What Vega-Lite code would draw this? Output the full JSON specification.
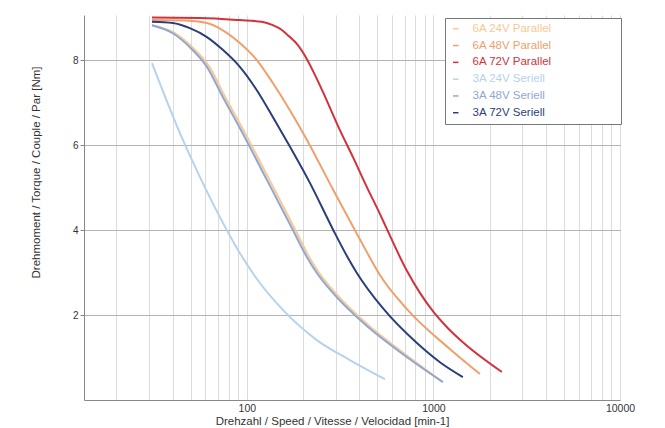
{
  "$schema": "https://vega.github.io/schema/vega-lite/v6.json",
  "width": 536,
  "height": 385,
  "autosize": {"type": "none"},
  "padding": {"left": 84, "top": 15, "right": 45, "bottom": 28},
  "background": "white",
  "config": {
    "view": {"stroke": null},
    "font": "Liberation Sans"
  },
  "data": {
    "values": [
      {"s": "6A 24V Parallel", "n": 31.0, "t": 8.82},
      {"s": "6A 24V Parallel", "n": 41.3, "t": 8.63},
      {"s": "6A 24V Parallel", "n": 51.0, "t": 8.3},
      {"s": "6A 24V Parallel", "n": 63.0, "t": 7.84},
      {"s": "6A 24V Parallel", "n": 76.5, "t": 7.13},
      {"s": "6A 24V Parallel", "n": 94.5, "t": 6.4},
      {"s": "6A 24V Parallel", "n": 132, "t": 5.18},
      {"s": "6A 24V Parallel", "n": 182, "t": 4.0},
      {"s": "6A 24V Parallel", "n": 216, "t": 3.36},
      {"s": "6A 24V Parallel", "n": 244, "t": 2.99},
      {"s": "6A 24V Parallel", "n": 298, "t": 2.52},
      {"s": "6A 24V Parallel", "n": 453, "t": 1.74},
      {"s": "6A 24V Parallel", "n": 680, "t": 1.13},
      {"s": "6A 24V Parallel", "n": 1110, "t": 0.44},

      {"s": "6A 48V Parallel", "n": 31.0, "t": 8.94},
      {"s": "6A 48V Parallel", "n": 46.5, "t": 8.93},
      {"s": "6A 48V Parallel", "n": 61.1, "t": 8.87},
      {"s": "6A 48V Parallel", "n": 74.3, "t": 8.7},
      {"s": "6A 48V Parallel", "n": 91.7, "t": 8.4},
      {"s": "6A 48V Parallel", "n": 113.1, "t": 8.0},
      {"s": "6A 48V Parallel", "n": 137.8, "t": 7.46},
      {"s": "6A 48V Parallel", "n": 170.1, "t": 6.82},
      {"s": "6A 48V Parallel", "n": 209.9, "t": 6.12},
      {"s": "6A 48V Parallel", "n": 289.0, "t": 4.96},
      {"s": "6A 48V Parallel", "n": 388.7, "t": 3.91},
      {"s": "6A 48V Parallel", "n": 439.8, "t": 3.48},
      {"s": "6A 48V Parallel", "n": 516.5, "t": 2.94},
      {"s": "6A 48V Parallel", "n": 720.7, "t": 2.14},
      {"s": "6A 48V Parallel", "n": 1225, "t": 1.2},
      {"s": "6A 48V Parallel", "n": 1775, "t": 0.61},

      {"s": "6A 72V Parallel", "n": 31.0, "t": 9.0},
      {"s": "6A 72V Parallel", "n": 56.0, "t": 8.99},
      {"s": "6A 72V Parallel", "n": 91.7, "t": 8.94},
      {"s": "6A 72V Parallel", "n": 120.3, "t": 8.9},
      {"s": "6A 72V Parallel", "n": 137.8, "t": 8.82},
      {"s": "6A 72V Parallel", "n": 150.3, "t": 8.74},
      {"s": "6A 72V Parallel", "n": 170.1, "t": 8.54},
      {"s": "6A 72V Parallel", "n": 185.4, "t": 8.38},
      {"s": "6A 72V Parallel", "n": 209.9, "t": 8.02},
      {"s": "6A 72V Parallel", "n": 231.6, "t": 7.65},
      {"s": "6A 72V Parallel", "n": 255.6, "t": 7.25},
      {"s": "6A 72V Parallel", "n": 315.3, "t": 6.35},
      {"s": "6A 72V Parallel", "n": 369.9, "t": 5.72},
      {"s": "6A 72V Parallel", "n": 439.8, "t": 5.01},
      {"s": "6A 72V Parallel", "n": 516.5, "t": 4.38},
      {"s": "6A 72V Parallel", "n": 563.4, "t": 4.02},
      {"s": "6A 72V Parallel", "n": 720.7, "t": 3.04},
      {"s": "6A 72V Parallel", "n": 846.6, "t": 2.52},
      {"s": "6A 72V Parallel", "n": 993.5, "t": 2.09},
      {"s": "6A 72V Parallel", "n": 1196, "t": 1.69},
      {"s": "6A 72V Parallel", "n": 1438, "t": 1.36},
      {"s": "6A 72V Parallel", "n": 2328, "t": 0.66},

      {"s": "3A 24V Seriell", "n": 31.0, "t": 7.93},
      {"s": "3A 24V Seriell", "n": 45.4, "t": 6.12},
      {"s": "3A 24V Seriell", "n": 56.0, "t": 5.25},
      {"s": "3A 24V Seriell", "n": 70.8, "t": 4.35},
      {"s": "3A 24V Seriell", "n": 89.1, "t": 3.55},
      {"s": "3A 24V Seriell", "n": 112.2, "t": 2.87},
      {"s": "3A 24V Seriell", "n": 156.0, "t": 2.12},
      {"s": "3A 24V Seriell", "n": 237.2, "t": 1.41},
      {"s": "3A 24V Seriell", "n": 356.6, "t": 0.94},
      {"s": "3A 24V Seriell", "n": 549.5, "t": 0.49},

      {"s": "3A 48V Seriell", "n": 31.0, "t": 8.82},
      {"s": "3A 48V Seriell", "n": 40.1, "t": 8.63},
      {"s": "3A 48V Seriell", "n": 49.5, "t": 8.3},
      {"s": "3A 48V Seriell", "n": 61.1, "t": 7.84},
      {"s": "3A 48V Seriell", "n": 74.3, "t": 7.13},
      {"s": "3A 48V Seriell", "n": 91.7, "t": 6.4},
      {"s": "3A 48V Seriell", "n": 128.0, "t": 5.18},
      {"s": "3A 48V Seriell", "n": 176.5, "t": 4.0},
      {"s": "3A 48V Seriell", "n": 209.9, "t": 3.36},
      {"s": "3A 48V Seriell", "n": 237.2, "t": 2.99},
      {"s": "3A 48V Seriell", "n": 289.0, "t": 2.52},
      {"s": "3A 48V Seriell", "n": 439.8, "t": 1.74},
      {"s": "3A 48V Seriell", "n": 661.0, "t": 1.13},
      {"s": "3A 48V Seriell", "n": 1124, "t": 0.42},

      {"s": "3A 72V Seriell", "n": 31.0, "t": 8.9},
      {"s": "3A 72V Seriell", "n": 40.1, "t": 8.87},
      {"s": "3A 72V Seriell", "n": 49.5, "t": 8.75},
      {"s": "3A 72V Seriell", "n": 61.1, "t": 8.54},
      {"s": "3A 72V Seriell", "n": 74.3, "t": 8.24},
      {"s": "3A 72V Seriell", "n": 91.7, "t": 7.84},
      {"s": "3A 72V Seriell", "n": 113.1, "t": 7.29},
      {"s": "3A 72V Seriell", "n": 137.8, "t": 6.66},
      {"s": "3A 72V Seriell", "n": 163.8, "t": 6.09},
      {"s": "3A 72V Seriell", "n": 217.7, "t": 5.11},
      {"s": "3A 72V Seriell", "n": 289.0, "t": 4.02},
      {"s": "3A 72V Seriell", "n": 343.7, "t": 3.39},
      {"s": "3A 72V Seriell", "n": 388.7, "t": 2.99},
      {"s": "3A 72V Seriell", "n": 535.9, "t": 2.16},
      {"s": "3A 72V Seriell", "n": 815.6, "t": 1.34},
      {"s": "3A 72V Seriell", "n": 1083.6, "t": 0.89},
      {"s": "3A 72V Seriell", "n": 1438, "t": 0.54}
    ]
  },
  "mark": {"type": "line", "strokeWidth": 2, "clip": true, "interpolate": "monotone"},
  "encoding": {
    "x": {
      "field": "n",
      "type": "quantitative",
      "scale": {"type": "log", "domain": [13.4, 10000], "nice": false},
      "axis": {
        "title": "Drehzahl / Speed / Vitesse / Velocidad [min-1]",
        "values": [20,30,40,50,60,70,80,90,100,200,300,400,500,600,700,800,900,1000,2000,3000,4000,5000,6000,7000,8000,9000,10000],
        "format": "d",
        "labelExpr": "datum.value == 100 || datum.value == 1000 || datum.value == 10000 ? datum.label : ''",
        "grid": true,
        "gridColor": "#dcdcdc",
        "gridWidth": 1,
        "domainColor": "#888888",
        "ticks": false,
        "labelFontSize": 10.5,
        "labelColor": "#333333",
        "labelPadding": 3,
        "labelFlush": false,
        "labelOverlap": false,
        "titleFontSize": 11.5,
        "titleFontWeight": "normal",
        "titleColor": "#333333",
        "titleX": 248,
        "titleY": 24,
        "titleAlign": "center",
        "titleBaseline": "alphabetic"
      }
    },
    "y": {
      "field": "t",
      "type": "quantitative",
      "scale": {"domain": [0, 9.06], "nice": false, "zero": false},
      "axis": {
        "title": "Drehmoment / Torque / Couple / Par [Nm]",
        "values": [2, 4, 6, 8],
        "grid": true,
        "gridColor": "#b4b4b4",
        "domainColor": "#888888",
        "tickColor": "#888888",
        "tickSize": 4,
        "labelFontSize": 10,
        "labelColor": "#333333",
        "labelPadding": 2,
        "titleFontSize": 11.5,
        "titleFontWeight": "normal",
        "titleColor": "#333333",
        "titleAngle": -90,
        "titleX": -48,
        "titleY": 157,
        "titleAlign": "center",
        "titleBaseline": "middle"
      }
    },
    "color": {
      "field": "s",
      "type": "nominal",
      "sort": ["6A 24V Parallel", "6A 48V Parallel", "6A 72V Parallel", "3A 24V Seriell", "3A 48V Seriell", "3A 72V Seriell"],
      "scale": {
        "domain": ["6A 24V Parallel", "6A 48V Parallel", "6A 72V Parallel", "3A 24V Seriell", "3A 48V Seriell", "3A 72V Seriell"],
        "range": ["#f9c894", "#f0a06a", "#d2323c", "#b6d2ee", "#8ea8d4", "#2c3e7c"]
      },
      "legend": {
        "orient": "none",
        "legendX": 361,
        "legendY": 3,
        "title": null,
        "symbolType": "stroke",
        "symbolSize": 30,
        "symbolStrokeWidth": 1.5,
        "labelFontSize": 11.5,
        "labelOffset": 11,
        "labelLimit": 300,
        "rowPadding": 3.8,
        "padding": 5,
        "strokeColor": "#777777",
        "fillColor": "white",
        "labelExpr": "datum.label + '\u00a0\u00a0\u00a0\u00a0\u00a0\u00a0\u00a0\u00a0\u00a0\u00a0\u00a0\u00a0\u00a0\u00a0\u00a0\u00a0\u00a0\u2800'",
        "encode": {
          "labels": {"update": {"fill": {"scale": "color", "field": "value"}}}
        }
      }
    }
  }
}
